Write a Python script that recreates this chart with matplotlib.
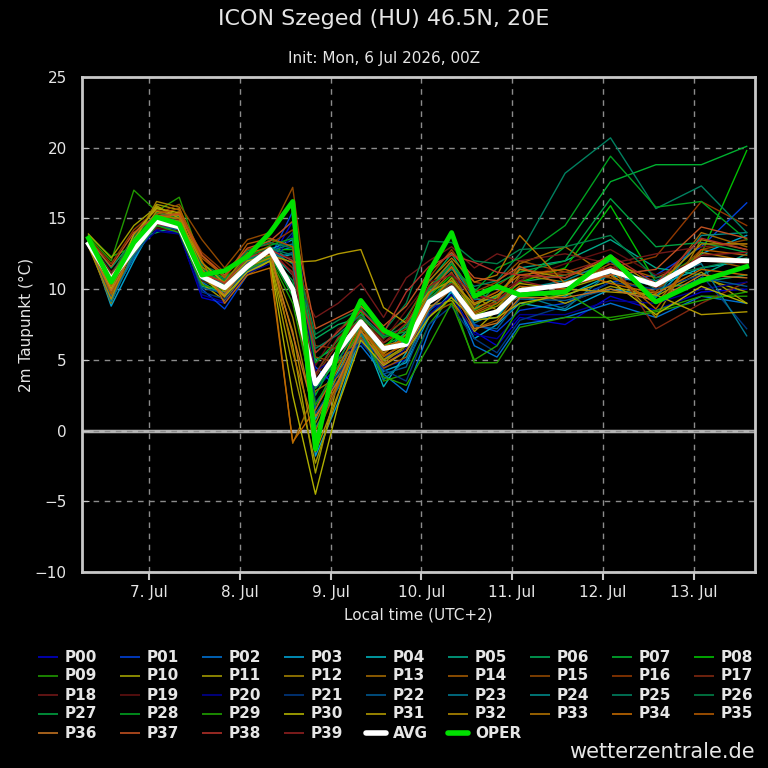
import numpy as np
import matplotlib
matplotlib.use("Agg")
from matplotlib import pyplot as plt
from matplotlib.lines import Line2D

# forecast hours since init (6 Jul 2026 00Z), local time = UTC+2
hours = [6, 12, 18, 24, 30, 36, 42, 48, 54, 60, 66, 72, 78, 84, 90, 96,
         102, 108, 114, 120, 132, 144, 156, 168, 180]

avg = [13.2, 10.7, 12.8, 14.8, 14.4, 10.9, 10.1, 11.6, 12.8, 10.0, 3.3, 5.6, 7.7,
       5.8, 6.1, 9.1, 10.1, 8.0, 8.4, 9.9, 10.3, 11.3, 10.3, 12.1, 12.0]
oper = [13.6, 10.5, 13.3, 15.1, 14.6, 11.0, 11.3, 12.3, 14.0, 16.2, -1.3, 5.8, 9.2,
        7.1, 6.3, 11.2, 14.0, 9.5, 10.2, 9.6, 9.8, 12.3, 9.1, 10.6, 11.6]

P00 = [13.0, 10.2, 12.5, 14.2, 14.0, 9.4, 9.0, 11.2, 12.0, 14.8, 3.0, 4.5, 7.0, 4.5, 5.0, 8.5, 9.5, 7.0, 6.0, 8.0, 7.5, 9.5, 8.5, 9.8, 10.0]
P01 = [13.2, 10.8, 13.0, 14.6, 14.3, 10.0, 8.6, 11.0, 12.2, 15.5, 4.5, 3.0, 6.5, 5.0, 6.5, 10.0, 12.0, 7.5, 7.0, 8.5, 9.0, 10.5, 11.0, 13.0, 16.1]
P02 = [13.4, 9.5, 12.2, 14.8, 14.6, 10.5, 9.5, 11.8, 12.5, 13.0, 1.5, 5.0, 6.0, 4.0, 2.7, 7.0, 10.0, 6.0, 5.2, 7.5, 8.0, 9.0, 8.0, 9.5, 9.0]
P03 = [13.5, 8.8, 12.0, 14.9, 14.7, 11.0, 10.0, 12.0, 12.8, 13.5, -1.8, 2.0, 6.8, 4.2, 4.8, 8.0, 9.8, 6.5, 7.5, 9.0, 8.5, 10.0, 9.5, 12.5, 13.8]
P04 = [13.3, 9.2, 12.6, 15.2, 14.8, 10.8, 10.3, 11.5, 12.0, 12.5, 0.8, 4.2, 7.2, 3.1, 5.5, 9.2, 10.5, 7.8, 8.0, 10.0, 9.5, 11.0, 10.2, 11.5, 12.0]
P05 = [13.0, 10.6, 13.2, 14.5, 14.2, 10.2, 9.8, 12.2, 12.6, 11.0, 5.0, 6.0, 7.5, 5.5, 7.0, 9.8, 11.5, 9.0, 9.5, 11.5, 12.0, 13.5, 11.5, 11.0, 12.5]
P06 = [13.6, 11.5, 13.5, 14.0, 14.5, 11.2, 10.6, 11.9, 13.0, 12.0, 6.5, 7.5, 8.0, 6.5, 8.0, 10.5, 12.5, 10.0, 9.0, 10.5, 11.0, 12.0, 10.0, 10.5, 11.0]
P07 = [13.1, 10.0, 12.8, 15.0, 14.4, 10.6, 9.9, 11.4, 12.4, 9.5, 2.5, 5.5, 7.8, 6.0, 6.8, 9.0, 10.5, 8.5, 9.5, 10.5, 13.0, 17.6, 18.8, 18.8, 20.1]
P08 = [13.8, 12.3, 13.0, 15.4, 15.0, 11.5, 10.8, 12.0, 12.8, 12.8, 4.0, 6.5, 8.4, 5.8, 7.5, 9.5, 11.0, 8.0, 9.0, 10.5, 11.5, 15.9, 10.5, 12.5, 19.8]
P09 = [13.7, 12.0, 17.0, 15.5, 16.5, 11.8, 10.5, 12.5, 13.5, 13.0, 5.5, 7.0, 8.8, 3.5, 4.0, 7.5, 9.5, 4.8, 4.8, 7.3, 8.0, 8.0, 8.5, 9.5, 9.5]
P10 = [13.9, 12.2, 14.5, 15.8, 15.2, 10.8, 9.6, 11.0, 12.0, 6.0, -3.0, 3.5, 6.8, 5.0, 5.8, 8.8, 9.2, 7.0, 8.5, 9.5, 10.0, 11.0, 9.0, 10.8, 9.8]
P11 = [13.4, 9.9, 13.6, 16.0, 15.6, 10.4, 9.2, 11.3, 12.1, 4.5, -2.3, 2.5, 7.0, 5.5, 6.5, 9.0, 10.8, 8.2, 8.8, 10.2, 9.0, 10.2, 9.5, 11.2, 9.0]
P12 = [13.2, 9.0, 13.3, 16.2, 15.8, 11.6, 10.0, 11.8, 12.3, 8.0, 0.5, 4.0, 7.4, 4.8, 6.0, 10.2, 12.0, 9.5, 8.5, 11.0, 10.5, 11.5, 8.0, 13.5, 12.8]
P13 = [13.1, 9.6, 12.4, 15.0, 15.3, 11.0, 9.4, 12.4, 12.0, -0.9, 2.8, 3.8, 7.6, 5.2, 6.3, 9.6, 11.2, 8.4, 9.2, 11.8, 13.0, 10.8, 9.8, 14.0, 13.0]
P14 = [13.0, 10.4, 13.1, 14.7, 15.5, 12.2, 10.9, 12.6, 12.6, 10.0, 1.0, 3.2, 6.6, 4.4, 5.2, 8.2, 9.0, 7.2, 7.8, 9.8, 10.2, 11.8, 10.8, 12.2, 11.5]
P15 = [13.3, 10.9, 13.8, 15.3, 16.0, 13.5, 11.5, 13.5, 14.0, 17.2, 5.2, 4.8, 8.2, 6.2, 7.2, 10.0, 11.5, 9.8, 10.5, 12.0, 11.2, 10.8, 9.8, 12.8, 13.5]
P16 = [13.6, 11.8, 14.2, 15.6, 15.2, 12.6, 11.2, 12.8, 13.2, 14.2, 6.0, 5.8, 8.6, 6.8, 7.8, 10.8, 12.8, 10.5, 10.2, 11.4, 11.0, 11.5, 12.3, 16.2, 14.5]
P17 = [13.2, 10.3, 13.4, 15.1, 14.9, 11.3, 10.2, 11.7, 12.9, 11.5, 3.8, 6.2, 7.9, 5.6, 6.6, 9.4, 10.4, 8.8, 9.0, 10.8, 11.2, 12.2, 7.2, 9.0, 10.5]
P18 = [13.5, 11.2, 13.0, 14.4, 14.6, 11.1, 10.5, 12.3, 13.0, 11.0, 8.0, 9.0, 10.4, 8.0, 10.8, 12.0, 13.0, 11.5, 12.5, 12.0, 12.5, 11.8, 12.5, 13.0, 13.2]
P19 = [13.3, 10.7, 13.1, 14.3, 14.1, 10.6, 10.0, 11.6, 12.5, 12.2, 4.6, 7.2, 8.0, 6.4, 8.5, 10.5, 11.0, 9.2, 9.8, 10.6, 11.8, 12.8, 11.0, 12.0, 11.8]
P20 = [13.1, 10.0, 12.7, 14.1, 13.9, 9.6, 9.1, 11.1, 11.8, 13.8, 4.2, 5.2, 6.2, 4.6, 5.8, 8.2, 9.6, 6.8, 6.5, 8.2, 8.2, 9.2, 9.0, 10.0, 10.5]
P21 = [13.4, 10.5, 12.9, 14.7, 14.5, 9.8, 9.3, 11.5, 12.2, 14.0, 2.0, 4.0, 6.3, 4.3, 3.5, 7.5, 8.8, 6.5, 5.5, 7.8, 8.8, 10.5, 10.0, 11.0, 7.2]
P22 = [13.2, 9.4, 12.3, 14.5, 14.2, 10.1, 9.7, 11.3, 12.1, 12.6, 1.2, 3.6, 7.1, 4.0, 4.5, 8.4, 10.2, 7.4, 7.2, 9.3, 9.2, 10.0, 9.2, 10.8, 10.2]
P23 = [13.3, 9.1, 12.5, 14.9, 14.7, 10.7, 10.1, 11.9, 12.7, 13.2, 0.2, 3.0, 6.9, 3.6, 5.0, 8.6, 10.0, 7.6, 8.4, 9.6, 8.6, 11.2, 10.6, 11.8, 6.7]
P24 = [13.5, 9.8, 12.9, 15.0, 14.6, 10.9, 10.4, 12.1, 12.7, 11.8, 3.5, 5.5, 7.3, 5.9, 6.2, 9.5, 11.8, 9.3, 9.2, 10.0, 10.6, 12.0, 9.4, 13.8, 14.0]
P25 = [13.4, 10.9, 13.1, 14.6, 14.4, 11.4, 10.7, 12.0, 12.9, 12.4, 5.8, 6.8, 8.2, 6.7, 7.3, 10.1, 11.4, 10.2, 10.6, 12.5, 18.2, 20.7, 15.7, 17.3, 14.0]
P26 = [13.6, 11.0, 13.7, 15.4, 15.1, 11.7, 11.0, 12.7, 13.3, 12.9, 6.8, 7.8, 8.6, 7.0, 9.0, 13.4, 13.3, 12.0, 11.8, 12.8, 13.0, 13.8, 10.8, 11.5, 12.2]
P27 = [13.2, 10.6, 12.7, 14.8, 14.5, 10.9, 10.3, 11.6, 12.3, 10.6, 3.0, 5.0, 7.5, 5.0, 6.0, 9.3, 10.8, 8.6, 10.4, 11.2, 12.0, 16.4, 13.0, 13.3, 12.6]
P28 = [13.3, 10.8, 13.2, 15.2, 14.8, 11.2, 10.6, 12.2, 13.1, 13.6, 4.8, 6.4, 8.0, 6.6, 7.0, 10.0, 11.8, 9.8, 11.5, 12.2, 14.5, 19.4, 15.8, 16.2, 13.5]
P29 = [13.1, 10.1, 12.6, 14.5, 14.0, 10.3, 9.9, 11.4, 12.2, 9.0, 1.8, 4.6, 7.2, 3.8, 3.2, 6.0, 9.0, 5.0, 6.0, 8.8, 9.8, 7.8, 8.4, 9.2, 9.8]
P30 = [13.6, 10.0, 13.9, 15.7, 15.4, 10.9, 9.5, 11.2, 12.0, 2.5, -4.5, 1.8, 6.4, 4.6, 5.6, 8.0, 9.4, 7.8, 8.0, 9.0, 9.6, 10.6, 8.2, 10.2, 9.0]
P31 = [13.4, 10.4, 13.5, 15.9, 15.0, 11.9, 10.4, 12.0, 12.4, 11.9, 12.0, 12.5, 12.8, 8.7, 7.6, 9.8, 10.6, 8.9, 9.6, 10.4, 10.0, 9.8, 9.6, 8.2, 8.4]
P32 = [13.0, 9.3, 13.2, 15.5, 15.2, 11.4, 9.8, 11.6, 12.2, 7.0, -1.5, 2.6, 7.4, 5.0, 6.0, 9.0, 10.8, 8.6, 9.4, 11.4, 10.8, 12.2, 10.2, 13.2, 13.2]
P33 = [13.2, 10.5, 13.3, 15.2, 15.0, 11.1, 10.5, 12.5, 13.0, 5.5, 0.0, 3.4, 7.0, 5.4, 6.8, 10.6, 12.2, 10.5, 11.0, 13.8, 10.4, 11.0, 9.0, 12.6, 12.0]
P34 = [13.4, 10.2, 13.0, 14.9, 15.4, 12.0, 9.0, 11.0, 11.5, -0.8, 1.5, 4.4, 7.7, 6.0, 6.4, 9.7, 11.6, 9.0, 9.8, 11.0, 11.4, 10.4, 9.7, 11.4, 11.0]
P35 = [13.3, 9.7, 12.9, 15.3, 15.7, 12.4, 10.8, 13.2, 13.6, 13.0, -0.5, 3.2, 7.3, 5.3, 6.1, 9.1, 10.2, 8.3, 9.0, 10.2, 10.0, 11.4, 8.6, 12.8, 12.4]
P36 = [13.1, 9.9, 12.8, 15.0, 14.8, 11.0, 9.6, 11.7, 12.6, 6.8, 1.0, 3.5, 7.1, 4.7, 5.6, 8.6, 10.0, 7.2, 7.6, 9.4, 9.4, 10.0, 9.2, 11.0, 10.8]
P37 = [13.5, 11.6, 14.0, 15.2, 15.3, 12.4, 11.0, 12.9, 13.4, 14.8, 7.2, 8.0, 8.8, 7.4, 8.8, 11.2, 12.6, 10.8, 10.6, 11.6, 10.2, 11.0, 11.4, 14.4, 13.6]
P38 = [13.4, 11.0, 13.3, 15.0, 14.7, 11.2, 10.4, 12.2, 12.8, 12.0, 5.5, 7.0, 8.5, 6.9, 9.8, 11.6, 12.4, 11.9, 11.2, 11.0, 10.8, 12.4, 10.4, 13.6, 12.8]
P39 = [13.2, 10.8, 12.9, 14.6, 14.3, 10.9, 10.2, 11.8, 12.6, 11.2, 4.0, 6.6, 7.8, 6.2, 7.6, 10.2, 11.1, 9.6, 9.2, 10.6, 9.9, 11.6, 10.1, 12.4, 12.6]

members = [P00, P01, P02, P03, P04, P05, P06, P07, P08, P09,
           P10, P11, P12, P13, P14, P15, P16, P17, P18, P19,
           P20, P21, P22, P23, P24, P25, P26, P27, P28, P29,
           P30, P31, P32, P33, P34, P35, P36, P37, P38, P39]

member_colors = ["#0000c8", "#0040d8", "#0070d0", "#00a0d0", "#00b0b8",
                 "#00a888", "#00a858", "#00b030", "#00c000", "#209800",
                 "#a0a000", "#a09800", "#a08000", "#a06800", "#a05800",
                 "#904800", "#903800", "#802810", "#701818", "#601010",
                 "#000090", "#003880", "#005890", "#007890", "#008888",
                 "#008060", "#008048", "#00a040", "#00a020", "#20a000",
                 "#b0b000", "#b09800", "#b08800", "#b07000", "#c06800",
                 "#b05800", "#c07020", "#c05020", "#b03028", "#902020"]

day_ticks = [24, 48, 72, 96, 120, 144, 168]
day_labels = ["7. Jul", "8. Jul", "9. Jul", "10. Jul", "11. Jul", "12. Jul", "13. Jul"]

fg = "#e6e6e6"
plt.rcParams["font.family"] = "DejaVu Sans"

fig = plt.figure(figsize=(7.68, 7.68), dpi=100, facecolor="black")
ax = fig.add_axes([0.1068, 0.2552, 0.8763, 0.6445], facecolor="black")

# local time axis (hours after 6 Jul 00 local)
t = np.array(hours) + 2

entries = []
for i, m in enumerate(members):
    ax.plot(t, m, color=member_colors[i], linewidth=1.0)
    entries.append(("P%02d" % i, member_colors[i], 1.2))
ax.plot(t, avg, color="white", linewidth=3.5)
ax.plot(t, oper, color="#00e000", linewidth=3.5)
entries += [("AVG", "white", 4), ("OPER", "#00e000", 4)]

ax.axhline(0, color="#b4b4b4", linewidth=2.5, zorder=0.5)

ax.set_xlim(6.3, 184.2)
ax.set_ylim(-10, 25)
ax.set_xticks(day_ticks)
ax.set_xticklabels(day_labels)
ax.set_yticks(range(-10, 30, 5))
ax.set_yticklabels(["\u221210", "\u22125", "0", "5", "10", "15", "20", "25"])
ax.grid(True, color="#8c8c8c", linestyle=(0, (4, 4)), linewidth=1.0)
ax.set_axisbelow(True)
ax.tick_params(axis="y", direction="in", colors="#c8c8c8", labelcolor=fg, labelsize=11, length=5, pad=11)
ax.tick_params(axis="x", direction="out", colors="#c8c8c8", labelcolor=fg, labelsize=11, length=6, width=1.5, pad=3)
for s in ax.spines.values():
    s.set_color("#c8c8c8")
    s.set_linewidth(2)

ax.set_xlabel("Local time (UTC+2)", color=fg, fontsize=11, labelpad=6)
ax.set_ylabel("2m Taupunkt (\u00b0C)", color=fg, fontsize=11)
ax.yaxis.set_label_coords(-0.0713, 0.5)

fig.text(0.5, 0.975, "ICON Szeged (HU) 46.5N, 20E", color=fg, fontsize=16, ha="center", va="center")
fig.text(0.5, 0.924, "Init: Mon, 6 Jul 2026, 00Z", color=fg, fontsize=11, ha="center", va="center")
fig.text(0.983, 0.021, "wetterzentrale.de", color=fg, fontsize=15, ha="right", va="center")

# legend, 9 columns filled row by row (pixel layout of the original)
W = 768.0
for k, (lab, col, lw) in enumerate(entries):
    r, c = divmod(k, 9)
    x0 = 38 + c * 82
    y0 = 657 + r * 19
    fig.add_artist(Line2D([x0 / W, (x0 + 20) / W], [1 - y0 / W, 1 - y0 / W],
                          color=col, linewidth=lw, solid_capstyle="round" if lw > 2 else "butt"))
    fig.text((x0 + 27) / W, 1 - y0 / W, lab, color=fg, fontsize=11, fontweight="bold",
             ha="left", va="center")

fig.savefig("out.png", dpi=100, facecolor="black")
